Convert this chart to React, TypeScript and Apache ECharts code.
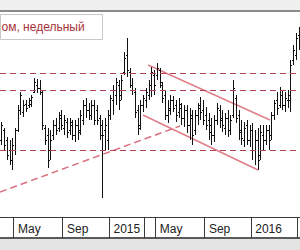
import React, { useEffect, useRef } from "react";
import * as echarts from "echarts";

// Weekly bars, first week starting Monday 2014-03-24
const FIRST_WEEK = "2014-03-24";
const WEEK_COUNT = 110;

const openPrices = [
  77, 87, 77, 67, 57, 67, 87, 107, 105, 113,
  112, 113, 125, 132, 129, 125, 89, 82, 67, 82,
  92, 89, 102, 89, 95, 87, 92, 82, 92, 87,
  97, 112, 107, 102, 112, 107, 99, 92, 87, 77,
  102, 117, 122, 132, 122, 145, 162, 145, 132, 125,
  107, 92, 112, 117, 122, 127, 142, 142, 147, 132,
  122, 102, 107, 117, 112, 105, 109, 99, 107, 92,
  99, 87, 102, 112, 107, 102, 97, 92, 82, 97,
  107, 99, 89, 99, 87, 102, 119, 102, 87, 77,
  92, 77, 87, 67, 77, 62, 82, 77, 87, 82,
  102, 117, 112, 122, 112, 117, 117, 157, 162, 182,
];
const highPrices = [
  95, 89, 80, 77, 79, 89, 112, 125, 117, 117,
  119, 122, 139, 138, 137, 127, 92, 89, 87, 97,
  99, 105, 107, 102, 99, 99, 97, 97, 99, 107,
  117, 119, 114, 117, 117, 112, 102, 97, 99, 107,
  122, 132, 139, 137, 142, 165, 179, 149, 139, 129,
  112, 117, 122, 129, 137, 150, 147, 154, 149, 135,
  127, 117, 122, 121, 117, 119, 114, 112, 112, 109,
  107, 107, 114, 120, 117, 110, 104, 99, 102, 114,
  112, 107, 104, 107, 102, 137, 122, 107, 97, 95,
  97, 92, 94, 87, 89, 92, 92, 92, 92, 105,
  117, 125, 130, 127, 125, 127, 157, 172, 184, 190,
];
const lowPrices = [
  72, 67, 57, 52, 47, 62, 85, 102, 100, 105,
  109, 110, 124, 124, 122, 87, 72, 49, 57, 77,
  82, 85, 87, 82, 79, 82, 77, 75, 77, 82,
  92, 99, 97, 97, 92, 92, 77, 19, 67, 67,
  97, 102, 112, 107, 117, 142, 140, 129, 122, 99,
  82, 87, 105, 109, 117, 120, 122, 137, 129, 114,
  97, 94, 102, 105, 95, 99, 92, 90, 84, 77,
  72, 82, 92, 97, 92, 87, 77, 72, 75, 92,
  89, 85, 82, 80, 82, 99, 94, 77, 72, 70,
  72, 70, 57, 52, 47, 57, 67, 72, 67, 77,
  97, 102, 109, 107, 105, 109, 105, 152, 157, 167,
];
const closePrices = [
  92, 72, 62, 57, 72, 87, 107, 122, 112, 109,
  117, 120, 135, 129, 125, 92, 77, 57, 77, 92,
  87, 99, 92, 97, 85, 95, 82, 92, 85, 102,
  112, 107, 102, 112, 97, 97, 82, 82, 92, 102,
  119, 127, 135, 117, 137, 159, 147, 132, 127, 105,
  89, 112, 119, 125, 132, 145, 132, 149, 135, 119,
  102, 109, 117, 109, 102, 113, 99, 107, 92, 102,
  82, 102, 109, 105, 97, 92, 85, 82, 97, 109,
  97, 92, 99, 87, 97, 129, 99, 85, 79, 89,
  77, 87, 67, 77, 57, 85, 77, 87, 77, 102,
  114, 109, 127, 112, 119, 122, 152, 167, 179, 172,
];

// Horizontal levels (dashed)
const levels = [144, 127, 67];
// Trend lines: [week index, price]
const supportLine = [[-0.5, 25], [65.5, 91]];
const channelTop = [[53.8, 152], [98.5, 97]];
const channelBottom = [[51.9, 102], [94.1, 47]];

// Axis separators / labels (week start dates)
const axisMarkWeeks = ["2014-04-28", "2014-09-01", "2014-12-29", "2015-03-30", "2015-04-27", "2015-08-31", "2015-12-28", "2016-04-25"];
const axisMarkLabels = ["May", "Sep", "2015", "", "May", "Sep", "2016", ""];

const TITLE = "ом, недельный";

function buildWeeks(): string[] {
  const out: string[] = [];
  const start = new Date(FIRST_WEEK + "T00:00:00Z").getTime();
  for (let i = 0; i < WEEK_COUNT; i++) {
    out.push(new Date(start + i * 7 * 86400000).toISOString().slice(0, 10));
  }
  return out;
}

export default function App() {
  const ref = useRef<HTMLDivElement>(null);
  useEffect(() => {
    if (!ref.current) return;
    const chart = echarts.init(ref.current, null, { renderer: "svg" });
    const weeks = buildWeeks();
    const markIdx = new Map<number, string>();
    axisMarkWeeks.forEach((w, k) => {
      const idx = weeks.indexOf(w);
      if (idx >= 0) markIdx.set(idx, axisMarkLabels[k]);
    });
    const rows = weeks.map((_, i) => [i, openPrices[i], highPrices[i], lowPrices[i], closePrices[i]]);
    const redLine = "#e07f8b";

    chart.setOption({
      animation: false,
      backgroundColor: "#ffffff",
      grid: { left: 0, right: 0, top: 10, bottom: 33, containLabel: false },
      xAxis: [
        {
          type: "category",
          data: weeks,
          boundaryGap: true,
          axisLine: { show: true, lineStyle: { color: "#3a3a3a", width: 1 } },
          axisTick: {
            show: true,
            length: 21,
            interval: (i: number) => markIdx.has(i),
            lineStyle: { color: "#3a3a3a", width: 1 },
          },
          axisLabel: {
            interval: (i: number) => markIdx.has(i) && markIdx.get(i) !== "",
            formatter: (_v: string, i: number) => markIdx.get(i) || "",
            align: "left",
            margin: 6,
            padding: [0, 0, 0, 3],
            fontSize: 12,
            fontFamily: "Liberation Sans, Arial, sans-serif",
            color: "#222",
          },
          splitLine: { show: false },
        },
        { type: "value", min: -0.5, max: WEEK_COUNT - 0.5, show: false },
      ],
      yAxis: { type: "value", min: 0, max: 207, show: false, splitLine: { show: false } },
      series: [
        {
          type: "custom",
          xAxisIndex: 1,
          data: rows,
          encode: { x: 0, y: [1, 2, 3, 4] },
          renderItem: (_p: any, api: any) => {
            const i = api.value(0);
            const pH = api.coord([i, api.value(2)]);
            const pL = api.coord([i, api.value(3)]);
            const pO = api.coord([i, api.value(1)]);
            const pC = api.coord([i, api.value(4)]);
            const x = Math.round(pH[0]) + 0.5;
            const st = { stroke: "#111", lineWidth: 1 };
            const oy = Math.round(pO[1]) + 0.5;
            const cy = Math.round(pC[1]) + 0.5;
            return {
              type: "group",
              children: [
                { type: "line", shape: { x1: x, y1: pH[1], x2: x, y2: pL[1] }, style: st },
                { type: "line", shape: { x1: x - 1.5, y1: oy, x2: x, y2: oy }, style: st },
                { type: "line", shape: { x1: x, y1: cy, x2: x + 1.5, y2: cy }, style: st },
              ],
            };
          },
          z: 3,
        },
        {
          type: "line",
          xAxisIndex: 1,
          data: supportLine,
          symbol: "none",
          silent: true,
          lineStyle: { color: "#d9707f", width: 1.5, type: [7, 4] },
          markLine: {
            silent: true,
            symbol: ["none", "none"],
            label: { show: false },
            lineStyle: { color: "#b0404f", width: 1, type: [6, 4] },
            data: levels.map((v) => ({ yAxis: v })),
          },
          z: 2,
        },
        {
          type: "line",
          xAxisIndex: 1,
          data: channelTop,
          symbol: "none",
          silent: true,
          lineStyle: { color: redLine, width: 1.5 },
          z: 2,
        },
        {
          type: "line",
          xAxisIndex: 1,
          data: channelBottom,
          symbol: "none",
          silent: true,
          lineStyle: { color: redLine, width: 1.5 },
          z: 2,
        },
      ],
      graphic: [
        { type: "rect", left: 0, top: 0, shape: { width: 300, height: 10 }, style: { fill: "#f0f0f0" }, silent: true },
        { type: "rect", left: 0, top: 10, shape: { width: 300, height: 2 }, style: { fill: "#8a8a8a" }, silent: true },
        { type: "rect", left: 0, top: 237, shape: { width: 300, height: 2 }, style: { fill: "#5a5a5a" }, silent: true },
        { type: "rect", left: 0, top: 239, shape: { width: 300, height: 11 }, style: { fill: "#e4e4e4" }, silent: true },
        {
          type: "group",
          left: 0,
          top: 14,
          z: 10,
          children: [
            { type: "rect", shape: { x: -1, y: 0, width: 102, height: 25 }, style: { fill: "#fff", stroke: "#c8c8c8", lineWidth: 1 } },
            {
              type: "text",
              x: 0,
              y: 12.5,
              style: {
                text: TITLE,
                fill: "#a8323a",
                font: "12px 'Liberation Sans', Arial, sans-serif",
                verticalAlign: "middle",
              },
            },
          ],
        },
      ],
    });
    return () => chart.dispose();
  }, []);
  return <div ref={ref} style={{ position: "fixed", left: 0, top: 0, width: 300, height: 250 }} />;
}
